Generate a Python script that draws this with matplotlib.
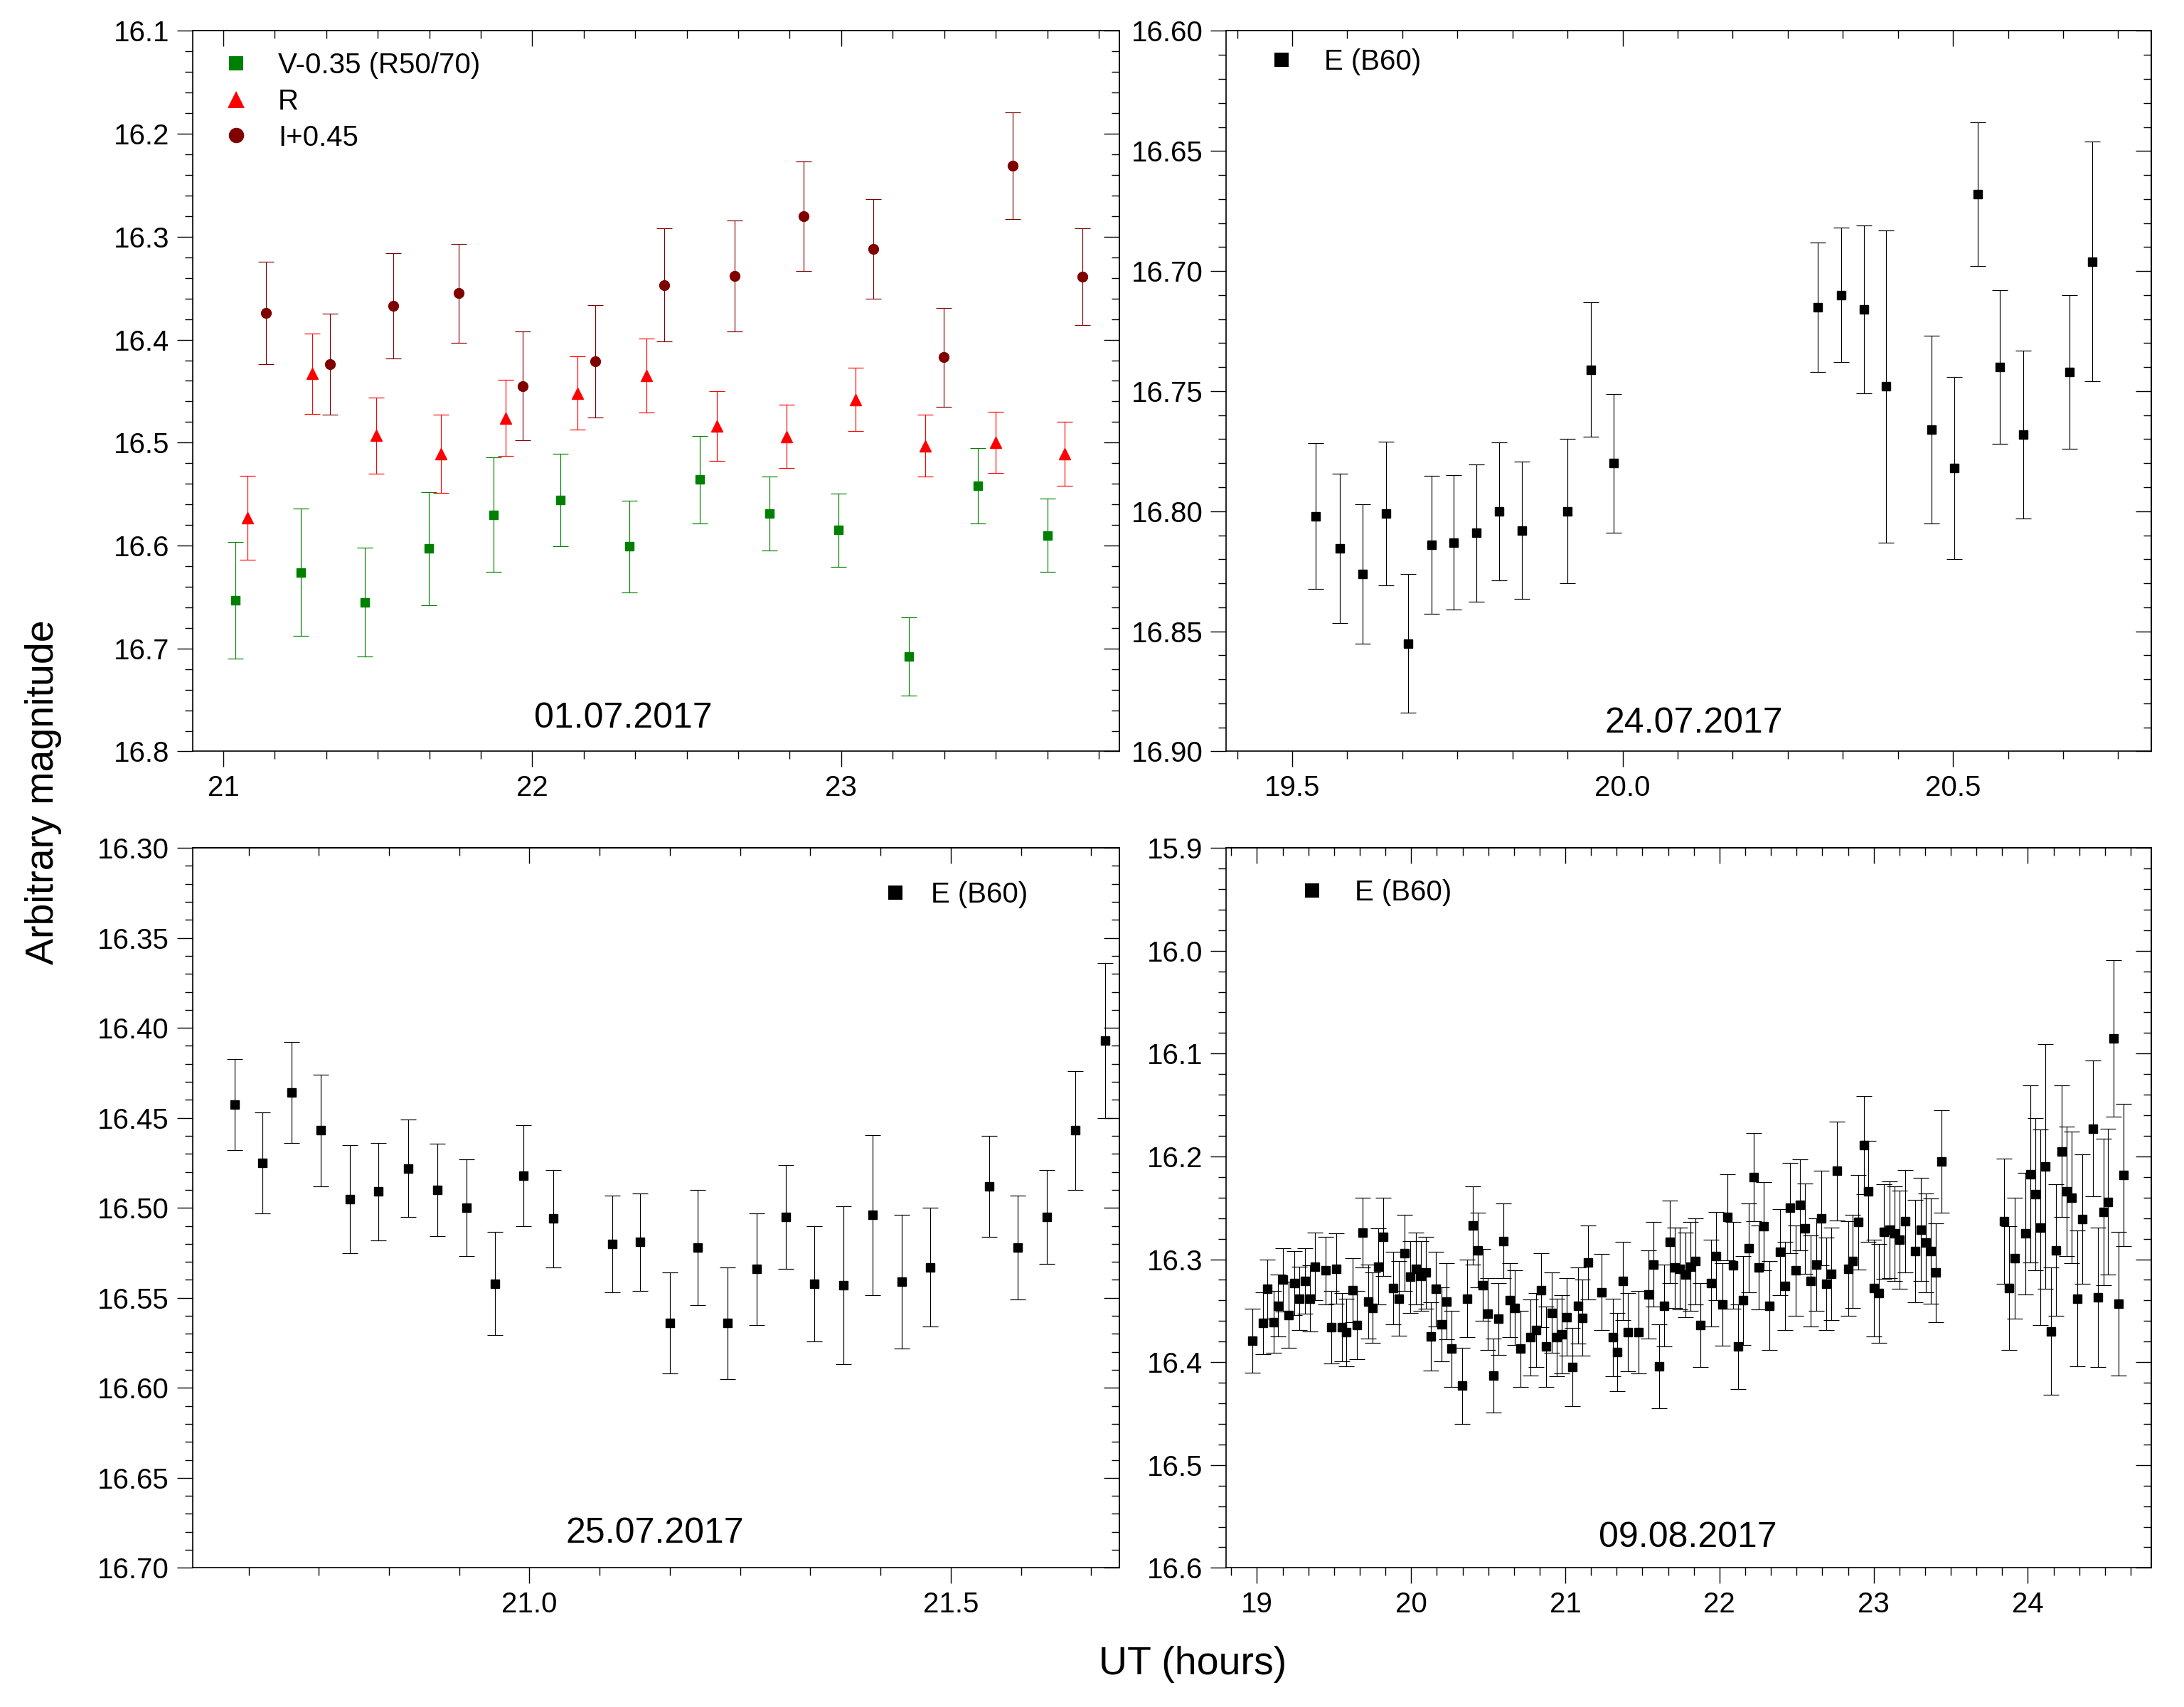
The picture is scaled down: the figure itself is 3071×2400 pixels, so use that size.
import matplotlib
matplotlib.use("Agg")
import matplotlib.pyplot as plt
from matplotlib.ticker import MultipleLocator, FormatStrFormatter, NullFormatter
from matplotlib.lines import Line2D

plt.rcParams['font.family'] = ['Liberation Sans', 'DejaVu Sans']

# ---- 01.07.2017 : V, R, I photometry ----
v_t = [21.04, 21.25, 21.457, 21.665, 21.875, 22.091, 22.315, 22.543, 22.768, 22.992, 23.218, 23.442, 23.667]
v_mag = [16.653, 16.626, 16.655, 16.603, 16.570, 16.556, 16.601, 16.536, 16.569, 16.585, 16.708, 16.542, 16.590]
v_err = [0.0565, 0.062, 0.053, 0.055, 0.0555, 0.045, 0.0446, 0.0427, 0.0359, 0.0354, 0.038, 0.0366, 0.0354]

r_t = [21.079, 21.287, 21.495, 21.705, 21.913, 22.147, 22.370, 22.598, 22.822, 23.046, 23.273, 23.499, 23.723]
r_mag = [16.573, 16.433, 16.493, 16.511, 16.476, 16.452, 16.435, 16.484, 16.494, 16.458, 16.503, 16.500, 16.511]
r_err = [0.041, 0.039, 0.037, 0.038, 0.037, 0.0356, 0.036, 0.034, 0.031, 0.0305, 0.030, 0.0296, 0.031]

i_t = [21.137, 21.345, 21.550, 21.762, 21.970, 22.204, 22.428, 22.655, 22.879, 23.103, 23.331, 23.556, 23.780]
i_mag = [16.374, 16.424, 16.367, 16.355, 16.445, 16.421, 16.347, 16.338, 16.280, 16.312, 16.417, 16.231, 16.339]
i_err = [0.0497, 0.049, 0.051, 0.048, 0.053, 0.0545, 0.055, 0.054, 0.053, 0.0485, 0.048, 0.052, 0.047]

# ---- 24.07.2017 : E (B60) ----
e24_t = [19.536, 19.572, 19.607, 19.642, 19.675, 19.711, 19.744, 19.779, 19.813, 19.848, 19.917, 19.952,
         19.986, 20.295, 20.331, 20.365, 20.399, 20.468, 20.502, 20.537, 20.571, 20.606, 20.676, 20.711]
e24_mag = [16.802, 16.8155, 16.826, 16.801, 16.855, 16.814, 16.813, 16.809, 16.800, 16.808, 16.800, 16.741,
           16.780, 16.715, 16.710, 16.716, 16.748, 16.766, 16.782, 16.668, 16.740, 16.768, 16.742, 16.696]
e24_err = [0.0303, 0.031, 0.029, 0.030, 0.029, 0.0286, 0.028, 0.0286, 0.0287, 0.0286, 0.030, 0.028,
           0.0288, 0.027, 0.028, 0.035, 0.065, 0.039, 0.038, 0.030, 0.032, 0.035, 0.032, 0.050]

# ---- 25.07.2017 : E (B60) ----
e25_t = [20.650, 20.683, 20.718, 20.752, 20.787, 20.821, 20.856, 20.891, 20.925, 20.959, 20.993, 21.028,
         21.098, 21.131, 21.167, 21.200, 21.235, 21.270, 21.304, 21.338, 21.373, 21.407, 21.442, 21.476,
         21.546, 21.579, 21.614, 21.648, 21.683]
e25_mag = [16.4426, 16.475, 16.436, 16.457, 16.495, 16.491, 16.478, 16.490, 16.500, 16.542, 16.482, 16.506,
           16.520, 16.519, 16.564, 16.522, 16.564, 16.534, 16.505, 16.542, 16.543, 16.504, 16.541, 16.533,
           16.488, 16.522, 16.505, 16.457, 16.407]
e25_err = [0.0254, 0.028, 0.028, 0.031, 0.030, 0.027, 0.027, 0.0257, 0.0268, 0.0288, 0.028, 0.027,
           0.027, 0.027, 0.028, 0.032, 0.031, 0.031, 0.029, 0.032, 0.044, 0.0445, 0.037, 0.033,
           0.028, 0.029, 0.026, 0.033, 0.043]

# ---- 09.08.2017 : E (B60) ----
e09_t = [18.969, 19.038, 19.069, 19.107, 19.138, 19.169, 19.207, 19.244, 19.273, 19.313, 19.344, 19.378,
         19.447, 19.481, 19.516, 19.550, 19.581, 19.619, 19.648, 19.684, 19.722, 19.750, 19.787, 19.821,
         19.885, 19.922, 19.959, 19.993, 20.030, 20.062, 20.094, 20.130, 20.162, 20.195, 20.229, 20.263,
         20.332, 20.364, 20.399, 20.433, 20.467, 20.499, 20.535, 20.567, 20.599, 20.642, 20.673, 20.707,
         20.775, 20.810, 20.844, 20.877, 20.911, 20.945, 20.979, 21.011, 21.047, 21.081, 21.111, 21.148,
         21.236, 21.307, 21.336, 21.374, 21.407, 21.474, 21.540, 21.574, 21.609, 21.642, 21.679, 21.711,
         21.744, 21.778, 21.812, 21.844, 21.878, 21.947, 21.979, 22.019, 22.051, 22.088, 22.120, 22.153,
         22.190, 22.222, 22.254, 22.286, 22.323, 22.392, 22.423, 22.457, 22.492, 22.520,
         22.555, 22.593, 22.627, 22.658, 22.691, 22.726, 22.763, 22.834, 22.863, 22.901, 22.935, 22.964,
         23.001, 23.033, 23.067, 23.104, 23.136, 23.166, 23.203, 23.269, 23.304, 23.338, 23.370, 23.404,
         23.439,
         23.844, 23.876, 23.916, 23.982, 24.018, 24.050, 24.082, 24.115, 24.152, 24.184, 24.219, 24.253,
         24.284, 24.319, 24.355, 24.421, 24.456, 24.490, 24.519, 24.557, 24.589, 24.621]
e09_mag = [16.379, 16.362, 16.329, 16.361, 16.345, 16.320, 16.354, 16.323, 16.338, 16.321, 16.338, 16.307,
           16.311, 16.366, 16.309, 16.366, 16.371, 16.330, 16.364, 16.274, 16.341, 16.347, 16.307, 16.278,
           16.328, 16.338, 16.294, 16.317, 16.309, 16.316, 16.313, 16.375, 16.329, 16.363, 16.341, 16.387,
           16.423, 16.338, 16.267, 16.291, 16.325, 16.353, 16.413, 16.358, 16.282, 16.340, 16.347, 16.387,
           16.376, 16.369, 16.330, 16.385, 16.352, 16.376, 16.373, 16.356, 16.405, 16.345, 16.357, 16.303,
           16.332, 16.376, 16.390, 16.321, 16.371, 16.371, 16.334, 16.305, 16.404, 16.345, 16.283, 16.308,
           16.309, 16.315, 16.307, 16.302, 16.364, 16.323, 16.297, 16.344, 16.259, 16.306, 16.385, 16.340,
           16.289, 16.220, 16.308, 16.268, 16.345, 16.293, 16.326, 16.250, 16.311, 16.247,
           16.270, 16.321, 16.305, 16.260, 16.324, 16.314, 16.214, 16.309, 16.302, 16.264, 16.189, 16.234,
           16.328, 16.333, 16.273, 16.271, 16.275, 16.281, 16.263, 16.292, 16.271, 16.284, 16.292, 16.313,
           16.205,
           16.263, 16.328, 16.299, 16.275, 16.217, 16.237, 16.269, 16.210, 16.370, 16.291, 16.195, 16.234,
           16.240, 16.338, 16.261, 16.173, 16.337, 16.254, 16.244, 16.085, 16.343, 16.218]
e09_err = [0.031, 0.030, 0.029, 0.030, 0.030, 0.031, 0.032, 0.031, 0.031, 0.032, 0.032, 0.033,
           0.033, 0.035, 0.034, 0.033, 0.033, 0.031, 0.033, 0.034, 0.036, 0.034, 0.037, 0.038,
           0.035, 0.036, 0.037, 0.035, 0.035, 0.034, 0.035, 0.033, 0.036, 0.036, 0.037, 0.037,
           0.037, 0.038, 0.038, 0.036, 0.035, 0.035, 0.036, 0.035, 0.036, 0.036, 0.036, 0.037,
           0.037, 0.036, 0.036, 0.039, 0.039, 0.038, 0.038, 0.038, 0.038, 0.037, 0.037, 0.036,
           0.037, 0.038, 0.038, 0.038, 0.038, 0.040, 0.043, 0.041, 0.041, 0.040, 0.040, 0.039,
           0.040, 0.041, 0.043, 0.042, 0.041, 0.042, 0.043, 0.040, 0.042, 0.042, 0.041, 0.043,
           0.043, 0.043, 0.041, 0.043, 0.043, 0.042, 0.043, 0.044, 0.044, 0.044,
           0.044, 0.044, 0.045, 0.046, 0.045, 0.045, 0.048, 0.046, 0.045, 0.046, 0.048, 0.049,
           0.047, 0.048, 0.046, 0.047, 0.046, 0.048, 0.050, 0.050, 0.050, 0.048, 0.051, 0.048,
           0.050,
           0.061, 0.060, 0.059, 0.059, 0.086, 0.074, 0.095, 0.119, 0.062, 0.064, 0.064, 0.063,
           0.064, 0.066, 0.063, 0.066, 0.068, 0.071, 0.071, 0.076, 0.070, 0.069]

TICK_FS = 29
LEG_FS = 29
DATE_FS = 36
LW = 1.0     # tick width
ELW = 0.85   # error bar width


def style_axes(ax, xlim, ylim, xmaj, xmin, ymaj, ymin, xfmt, yfmt):
    ax.set_xlim(*xlim)
    ax.set_ylim(ylim[1], ylim[0])  # magnitudes: bright at top
    for axis, maj, mnr, fmt in ((ax.xaxis, xmaj, xmin, xfmt), (ax.yaxis, ymaj, ymin, yfmt)):
        axis.set_major_locator(MultipleLocator(maj))
        axis.set_minor_locator(MultipleLocator(mnr))
        axis.set_major_formatter(FormatStrFormatter(fmt))
    ax.tick_params(which='both', direction='out', labelsize=TICK_FS, width=LW, pad=8)
    ax.tick_params(which='major', length=15.5)
    ax.tick_params(which='minor', length=8)
    for s in ax.spines.values():
        s.set_linewidth(1.2)

    # mirrored ticks on top and right, pointing inwards
    top = ax.secondary_xaxis('top')
    top.xaxis.set_major_locator(MultipleLocator(xmaj))
    top.xaxis.set_minor_locator(MultipleLocator(xmin))
    top.xaxis.set_major_formatter(NullFormatter())
    top.tick_params(which='both', direction='in', width=LW)
    top.tick_params(which='major', length=15.5)
    top.tick_params(which='minor', length=8)
    top.spines['top'].set_linewidth(1.2)

    right = ax.secondary_yaxis('right')
    right.yaxis.set_major_locator(MultipleLocator(ymaj))
    right.yaxis.set_minor_locator(MultipleLocator(ymin))
    right.yaxis.set_major_formatter(NullFormatter())
    right.tick_params(which='both', direction='in', width=LW)
    right.tick_params(which='major', length=15.5)
    right.tick_params(which='minor', length=8)
    right.spines['right'].set_linewidth(1.2)


def plot_set(ax, t, mag, err, color, marker, ms):
    ax.errorbar(t, mag, yerr=err, fmt=marker, color=color, ecolor=color, ms=ms,
                elinewidth=ELW, capsize=8.2, capthick=ELW)


def add_legend(ax, entries, anchor, textpad, spacing):
    handles = [Line2D([], [], ls='none', marker=m, color=c, ms=s, mew=0, label=lab)
               for lab, c, m, s in entries]
    ax.legend(handles=handles, loc='upper left', bbox_to_anchor=anchor, frameon=False,
              fontsize=LEG_FS, handlelength=1.0, handletextpad=textpad, labelspacing=spacing,
              borderpad=0, borderaxespad=0, numpoints=1)


fig = plt.figure(figsize=(30.71, 24.0), dpi=100)
ax1 = fig.add_axes([0.0881, 0.5598, 0.4244, 0.4221])
ax2 = fig.add_axes([0.5614, 0.5598, 0.4236, 0.4221])
ax3 = fig.add_axes([0.0881, 0.0815, 0.4244, 0.4218])
ax4 = fig.add_axes([0.5614, 0.0815, 0.4236, 0.4218])

# panel 1
plot_set(ax1, v_t, v_mag, v_err, '#008000', 's', 9.2)
plot_set(ax1, r_t, r_mag, r_err, '#ff0000', '^', 11)
plot_set(ax1, i_t, i_mag, i_err, '#800000', 'o', 10)
style_axes(ax1, (20.9, 23.9), (16.1, 16.8), 1, 1 / 6, 0.1, 0.02, '%d', '%.1f')
add_legend(ax1, [('V-0.35 (R50/70)', '#008000', 's', 14),
                 ('R', '#ff0000', '^', 17),
                 ('I+0.45', '#800000', 'o', 15.5)],
           (0.0315, 0.971), 0.97, 0.32)
ax1.text(0.465, 0.046, '01.07.2017', transform=ax1.transAxes, ha='center', va='center', fontsize=DATE_FS)

# panel 2
plot_set(ax2, e24_t, e24_mag, e24_err, 'black', 's', 9.3)
style_axes(ax2, (19.4, 20.8), (16.6, 16.9), 0.5, 1 / 12, 0.05, 0.01, '%.1f', '%.2f')
add_legend(ax2, [('E (B60)', 'black', 's', 14)], (0.0446, 0.976), 0.99, 0.15)
ax2.text(0.506, 0.039, '24.07.2017', transform=ax2.transAxes, ha='center', va='center', fontsize=DATE_FS)

# panel 3
plot_set(ax3, e25_t, e25_mag, e25_err, 'black', 's', 9.3)
style_axes(ax3, (20.6, 21.7), (16.3, 16.7), 0.5, 1 / 12, 0.05, 0.01, '%.1f', '%.2f')
add_legend(ax3, [('E (B60)', 'black', 's', 14)], (0.743, 0.954), 0.75, 0.15)
ax3.text(0.499, 0.048, '25.07.2017', transform=ax3.transAxes, ha='center', va='center', fontsize=DATE_FS)

# panel 4
plot_set(ax4, e09_t, e09_mag, e09_err, 'black', 's', 9.3)
style_axes(ax4, (18.8, 24.8), (15.9, 16.6), 1, 1 / 6, 0.1, 0.02, '%d', '%.1f')
add_legend(ax4, [('E (B60)', 'black', 's', 14)], (0.0776, 0.957), 0.99, 0.15)
ax4.text(0.499, 0.042, '09.08.2017', transform=ax4.transAxes, ha='center', va='center', fontsize=DATE_FS)

fig.text(0.0200, 0.536, 'Arbitrary magnitude', rotation=90, ha='center', va='center', fontsize=40)
fig.text(0.546, 0.025, 'UT (hours)', ha='center', va='center', fontsize=40)

fig.savefig('out.png', dpi=100)
